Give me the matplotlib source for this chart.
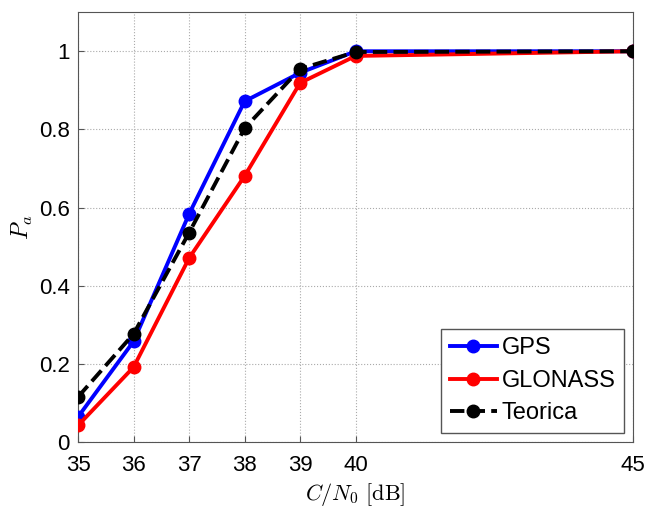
import matplotlib
matplotlib.use("Agg")
import matplotlib.pyplot as plt

# C/N0 [dB]
cn0 = [35, 36, 37, 38, 39, 40, 45]
gps = [0.065, 0.258, 0.584, 0.872, 0.945, 1.0, 1.0]
glonass = [0.043, 0.192, 0.471, 0.681, 0.919, 0.988, 1.0]
teorica = [0.116, 0.277, 0.536, 0.803, 0.955, 0.998, 1.0]

xticks = [35, 36, 37, 38, 39, 40, 45]
yticks = [0, 0.2, 0.4, 0.6, 0.8, 1.0]
yticklabels = ["0", "0.2", "0.4", "0.6", "0.8", "1"]

plt.rcParams["font.family"] = ["Liberation Sans", "DejaVu Sans"]
plt.rcParams["mathtext.fontset"] = "cm"

fig = plt.figure(figsize=(6.46, 5.07), dpi=100)
ax = fig.add_axes([0.121, 0.128, 0.859, 0.848])

ax.plot(cn0, gps, "-o", color="blue", lw=2.8, ms=9, label="GPS", zorder=3)
ax.plot(cn0, glonass, "-o", color="red", lw=2.8, ms=9, label="GLONASS", zorder=3)
ax.plot(cn0, teorica, "--o", color="black", lw=2.8, ms=9, label="Teorica", zorder=4)

ax.set_xlim(35, 45)
ax.set_ylim(0, 1.1)
ax.set_xticks(xticks)
ax.set_yticks(yticks)
ax.set_yticklabels(yticklabels)
ax.tick_params(labelsize=16, direction="in", length=4, color="#555555")
ax.tick_params(axis="x", pad=9)
ax.tick_params(axis="y", pad=6)
ax.grid(True, linestyle=":", color="#aaaaaa", linewidth=0.8)
for s in ax.spines.values():
    s.set_color("#555555")

ax.set_xlabel(r"$C/N_0\ [\mathrm{dB}]$", fontsize=16, labelpad=4)
ax.set_ylabel(r"$P_a$", fontsize=17, labelpad=3)

leg = ax.legend(loc="lower right", fontsize=17, fancybox=False, framealpha=1,
                edgecolor="#555555", handlelength=2.0, handletextpad=0.2,
                borderpad=0.35, labelspacing=0.45, borderaxespad=0.4)
leg.get_frame().set_linewidth(1.0)

fig.savefig("out.png", dpi=100)
